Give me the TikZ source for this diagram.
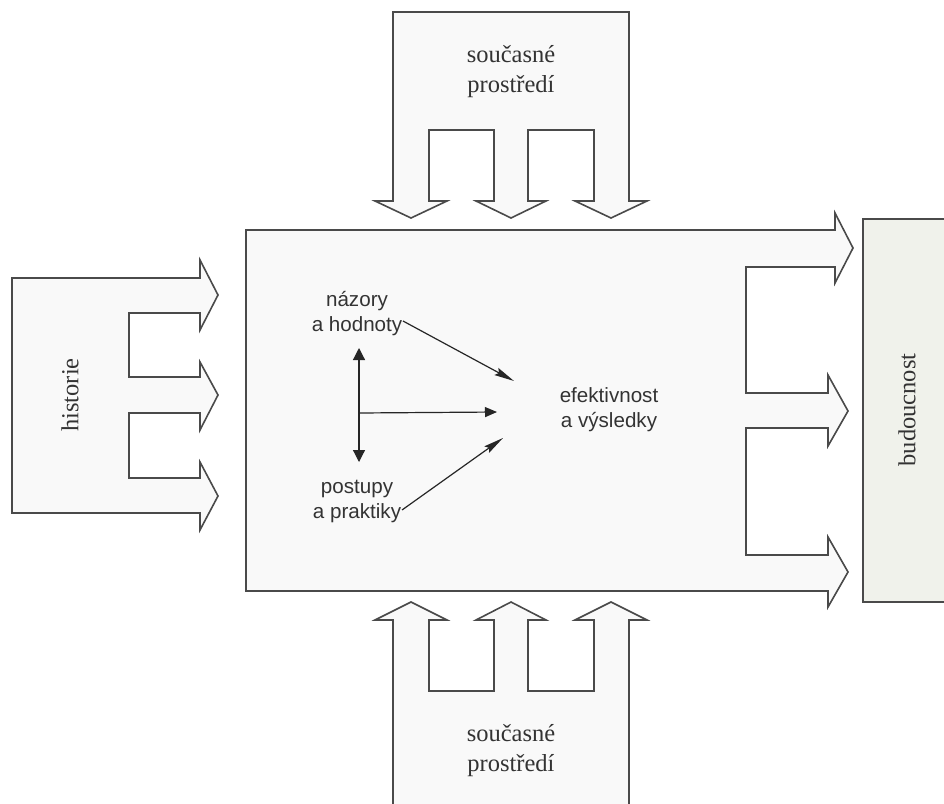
\documentclass[tikz,border=0pt]{standalone}
\usepackage{fontspec}
\setmainfont{Liberation Serif}
\newfontfamily\labelsans{Liberation Sans}
\usetikzlibrary{arrows.meta}
\definecolor{edge}{HTML}{4A4A4A}
\definecolor{pale}{HTML}{F9F9F9}
\definecolor{futurefill}{HTML}{F0F2EB}
\definecolor{ink}{HTML}{333333}
\tikzset{
  block/.style={draw=edge, fill=pale, line width=1.6pt, line join=miter},
  serifnote/.style={text=ink, align=center, inner sep=0pt,
    font=\fontsize{24.5}{30}\selectfont},
  sansnote/.style={text=ink, align=center, inner sep=0pt,
    font=\labelsans\fontsize{20.6}{25}\selectfont},
  link/.style={draw=black!85, line width=1.2pt},
  slimhead/.style={-{Stealth[length=20pt,width=8pt,inset=3pt]}},
  wedge/.tip={Triangle[length=12pt,width=12pt]},
  flathead/.tip={Triangle[length=12pt,width=10pt]},
}
\begin{document}
\begin{tikzpicture}[x=1pt,y=-1pt]
\useasboundingbox (0,0) rectangle (944,803);
\clip (0,0) rectangle (944,803);

% upper environment block with three downward arrows
\draw[block] (393,12) -- (629,12) -- (629,201) -- (647,201) -- (611,218)
  -- (575,201) -- (594,201) -- (594,130) -- (528,130) -- (528,201)
  -- (546,201) -- (511,218) -- (476,201) -- (494,201) -- (494,130)
  -- (429,130) -- (429,201) -- (447,201) -- (411,218) -- (375,201)
  -- (393,201) -- cycle;

% lower environment block with three upward arrows
\draw[block] (393,815) -- (393,620) -- (375,620) -- (411,602) -- (447,620)
  -- (429,620) -- (429,691) -- (494,691) -- (494,620) -- (476,620)
  -- (511,602) -- (546,620) -- (528,620) -- (528,691) -- (594,691)
  -- (594,620) -- (575,620) -- (611,602) -- (647,620) -- (629,620)
  -- (629,815) -- cycle;

% history block with three arrows to the right
\draw[block] (12,278) -- (200,278) -- (200,260) -- (218,295) -- (200,330)
  -- (200,313) -- (129,313) -- (129,377) -- (200,377) -- (200,362)
  -- (218,395) -- (200,430) -- (200,413) -- (129,413) -- (129,478)
  -- (200,478) -- (200,462) -- (218,496) -- (200,530) -- (200,513)
  -- (12,513) -- cycle;

% organisation block, opening into three arrows towards the future
\draw[block] (246,230) -- (835,230) -- (835,213) -- (853,248) -- (835,283)
  -- (835,267) -- (746,267) -- (746,393) -- (828,393) -- (828,375)
  -- (848,411) -- (828,446) -- (828,428) -- (746,428) -- (746,555)
  -- (828,555) -- (828,537) -- (848,572) -- (828,607) -- (828,591)
  -- (246,591) -- cycle;

% future block
\draw[block, fill=futurefill] (863,219) rectangle (960,602);

% block captions
\node[serifnote] (envtop) at (511,72) {současné\\prostředí};
\node[serifnote] (envbottom) at (511,751) {současné\\prostředí};
\node[serifnote, rotate=90] (history) at (70,395) {historie};
\node[serifnote, rotate=90] (future) at (907,410) {budoucnost};

% inner relations
\node[sansnote] (views) at (357,314) {názory\\a hodnoty};
\node[sansnote] (practice) at (357,501) {postupy\\a praktiky};
\node[sansnote] (results) at (609,410) {efektivnost\\a výsledky};

\coordinate (viewsend) at (403,321);
\coordinate (practiceend) at (402,510);
\coordinate (upper) at (359,348);
\coordinate (lower) at (359,462);
\coordinate (junction) at (359,413);
\coordinate (hitA) at (514,381);
\coordinate (hitB) at (497,412);
\coordinate (hitC) at (503,438);

\draw[link, slimhead] (viewsend) -- (hitA);
\draw[link, slimhead] (practiceend) -- (hitC);
\draw[link, wedge-wedge] (upper) -- (lower);
\draw[link, -flathead] (junction) -- (hitB);
\end{tikzpicture}
\end{document}
